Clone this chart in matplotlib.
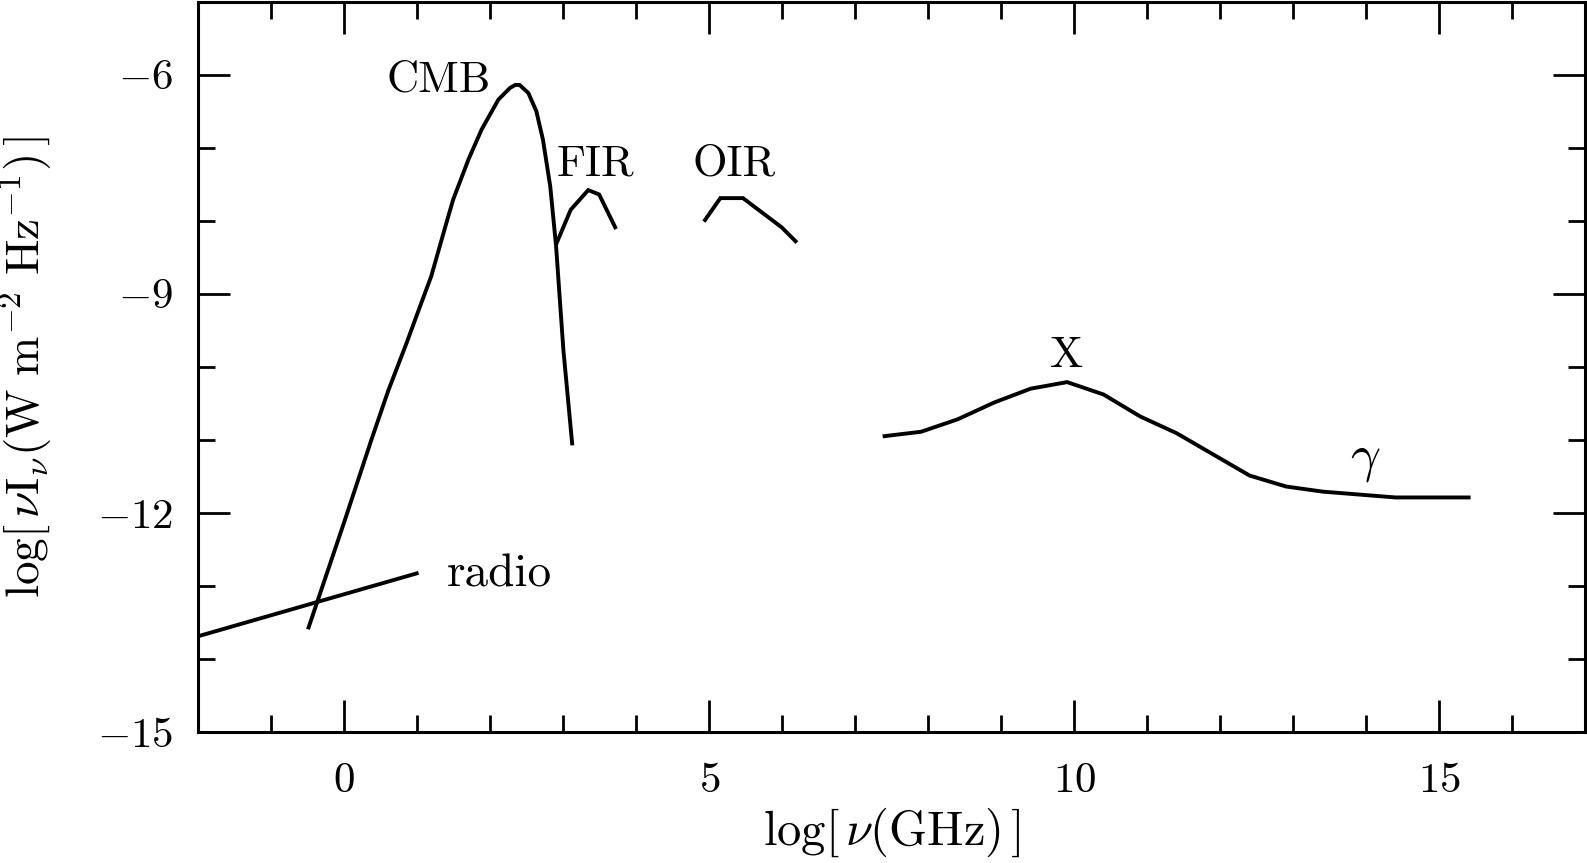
import matplotlib
matplotlib.use("Agg")
import matplotlib.pyplot as plt
from matplotlib.ticker import MultipleLocator

plt.rcParams["font.family"] = "serif"
plt.rcParams["font.serif"] = ["cmr10", "DejaVu Serif"]
plt.rcParams["mathtext.fontset"] = "cm"
plt.rcParams["axes.formatter.use_mathtext"] = True

# log nu (GHz) vs log nu I_nu (W m^-2 Hz^-1)
radio_x = [-2.0, 0.99]
radio_y = [-13.69, -12.83]

cmb_x = [-0.49, 0.0, 0.37, 0.60, 0.85, 1.03, 1.19, 1.40, 1.49, 1.70, 1.88,
         2.11, 2.27, 2.34, 2.40, 2.52, 2.63, 2.72, 2.82, 2.90, 3.00, 3.12]
cmb_y = [-13.57, -12.12, -11.00, -10.33, -9.68, -9.19, -8.76, -8.02, -7.71,
         -7.16, -6.75, -6.34, -6.18, -6.14, -6.14, -6.25, -6.50, -6.89,
         -7.53, -8.35, -9.77, -11.05]

fir_x = [2.91, 3.10, 3.34, 3.49, 3.71]
fir_y = [-8.30, -7.85, -7.58, -7.64, -8.09]

oir_x = [4.94, 5.15, 5.46, 5.99, 6.18]
oir_y = [-7.99, -7.69, -7.69, -8.09, -8.28]

xg_x = [7.4, 7.9, 8.4, 8.9, 9.4, 9.9, 10.4, 10.9, 11.4, 11.9, 12.4, 12.9,
        13.4, 13.9, 14.4, 14.9, 15.4]
xg_y = [-10.95, -10.89, -10.72, -10.49, -10.30, -10.21, -10.38, -10.68,
        -10.91, -11.20, -11.49, -11.64, -11.71, -11.75, -11.79, -11.79, -11.79]

labels = ["CMB", "FIR", "OIR", "X", r"$\gamma$", "radio"]
label_x = [1.29, 3.44, 5.34, 9.90, 13.98, 2.12]
label_y = [-6.23, -7.38, -7.38, -10.0, -11.42, -13.01]
label_size = [32, 32, 32, 32, 38, 34]

fig = plt.figure(figsize=(15.87, 8.63), dpi=100)
ax = fig.add_axes([0.125, 0.152, 0.874, 0.846])

for xs, ys in [(radio_x, radio_y), (cmb_x, cmb_y), (fir_x, fir_y),
               (oir_x, oir_y), (xg_x, xg_y)]:
    ax.plot(xs, ys, color="black", lw=2.8, solid_joinstyle="miter")

for t, x, y, fs in zip(labels, label_x, label_y, label_size):
    ax.text(x, y, t, fontsize=fs, ha="center", va="baseline")

ax.set_xlim(-2, 17)
ax.set_ylim(-15, -5)
ax.xaxis.set_major_locator(MultipleLocator(5))
ax.xaxis.set_minor_locator(MultipleLocator(1))
ax.yaxis.set_major_locator(MultipleLocator(3))
ax.yaxis.set_minor_locator(MultipleLocator(1))
ax.set_yticks([-15, -12, -9, -6])

ax.tick_params(which="both", direction="in", top=True, right=True,
               width=2, labelsize=31, colors="black")
ax.tick_params(which="major", length=23)
ax.tick_params(which="minor", length=12)
ax.tick_params(axis="x", which="major", pad=22)
ax.tick_params(axis="y", which="major", pad=18)
for s in ax.spines.values():
    s.set_linewidth(2.2)

ax.set_xlabel(r"$\log[\,\nu(\mathrm{GHz})\,]$", fontsize=35, labelpad=4)
ax.set_ylabel(r"$\log[\,\nu\mathrm{I}_\nu(\mathrm{W\ m^{-2}\ Hz^{-1}})\,]$",
              fontsize=34, labelpad=30)

fig.savefig("out.png", dpi=100)
